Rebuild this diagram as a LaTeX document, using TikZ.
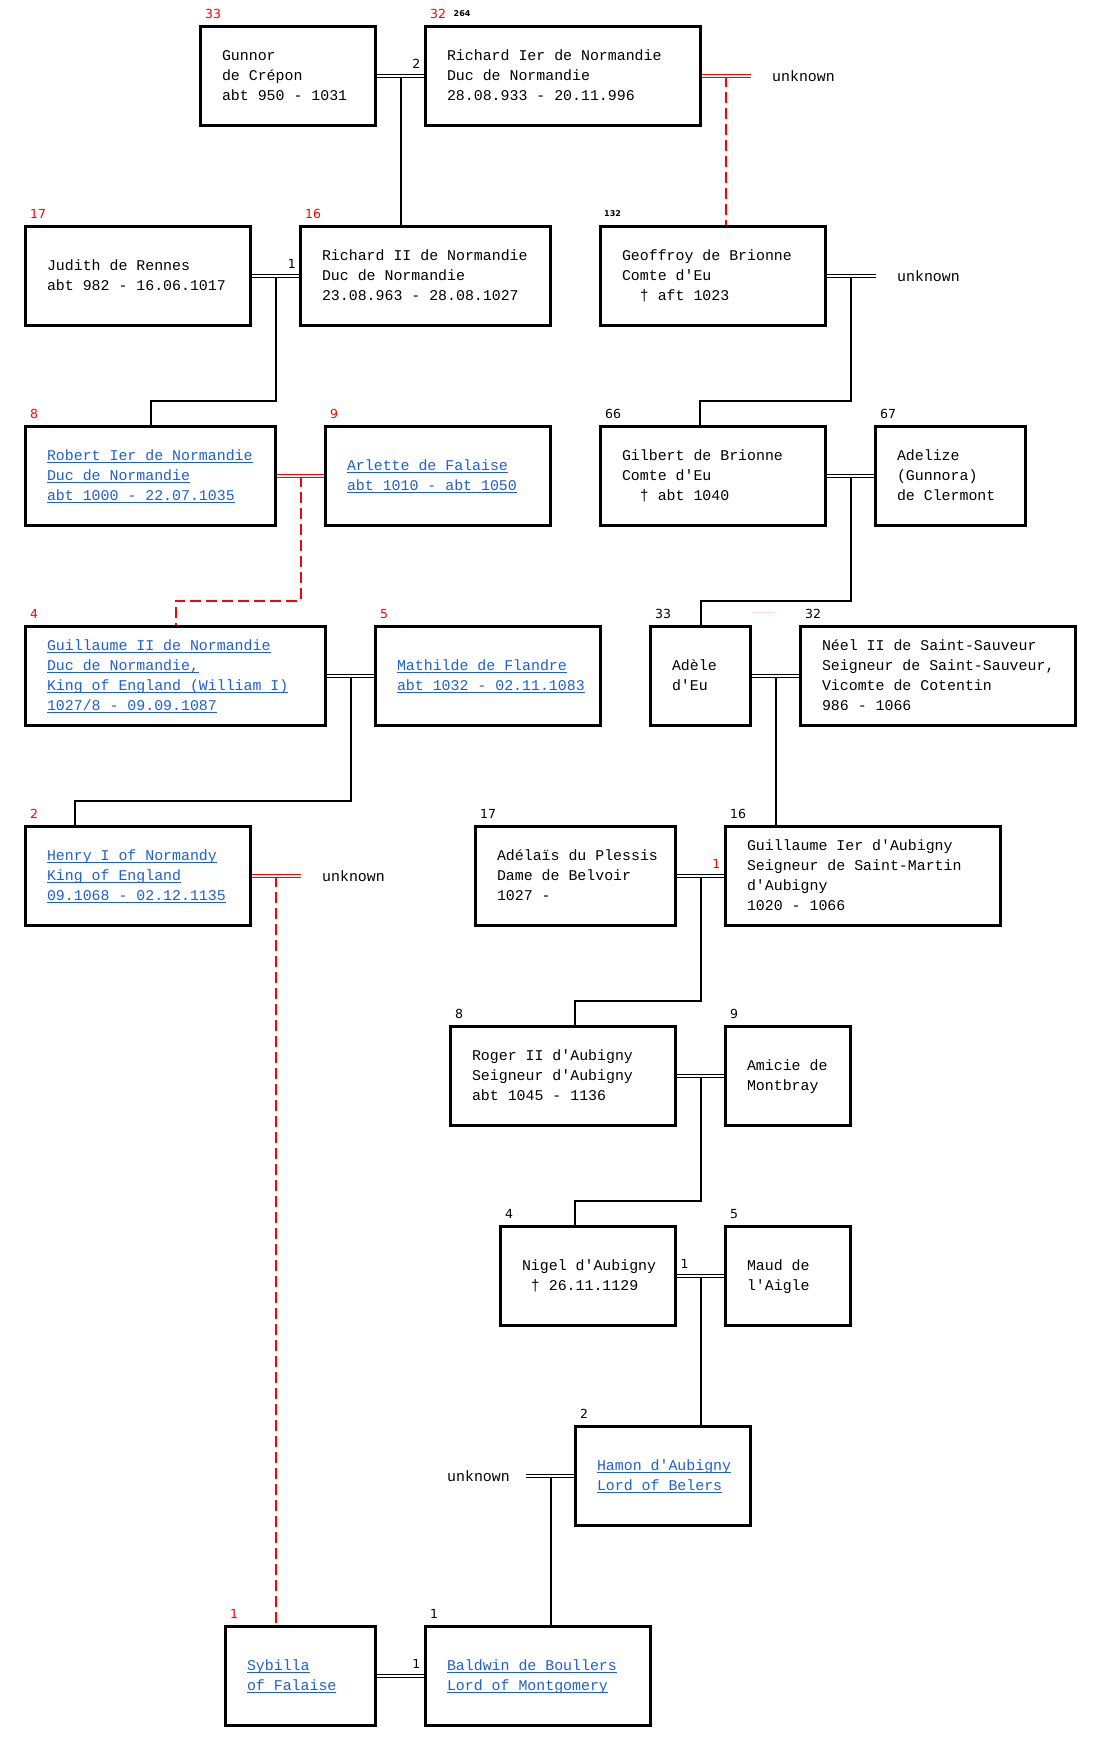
\documentclass[tikz,border=0pt]{standalone}
\usepackage{fontspec}
\setmonofont{Liberation Mono}
\newfontfamily\numfont{DejaVu Sans}
\usepackage{xcolor}
\usepackage{tikz}
\usetikzlibrary{positioning,calc,backgrounds}
\definecolor{ink}{HTML}{000000}
\definecolor{wedred}{HTML}{FF0000}
\definecolor{linkblue}{HTML}{1F5FCC}
\definecolor{ghostred}{HTML}{FFD9D9}
\newcommand\cardfont{\ttfamily\fontsize{14.9}{20}\selectfont
  \spaceskip=\fontcharwd\font`0\relax\xspaceskip=\spaceskip}
\newlength\lnkwd
\newcommand\lnk[1]{\settowidth\lnkwd{#1}\rlap{\rule[-3pt]{\lnkwd}{1pt}}#1}
\newcommand\card[1]{\cardfont\begin{tabular}{@{}l@{}}#1\end{tabular}}
\newcommand\pad[1]{\hphantom{#1}}

\begin{document}
\begin{tikzpicture}[x=1pt,y=-1pt,
  node distance=50pt,
  pbox/.style={draw=ink,line width=2.7pt,outer sep=0pt,minimum width=#1,
               text width=#1-43pt,inner xsep=21.5pt,inner ysep=0pt,
               minimum height=98.5pt,font=\cardfont,text=ink},
  lbox/.style={pbox=#1,text=linkblue},
  idx/.style={font=\numfont\fontsize{12.5}{14}\selectfont,inner sep=0pt,
              anchor=base west,text=ink},
  idxr/.style={idx,text=wedred},
  sub/.style={font=\numfont\bfseries\fontsize{8}{9}\selectfont,inner sep=0pt,
              anchor=base west,text=ink},
  unk/.style={font=\cardfont,inner sep=0pt,text=ink},
  wed/.style={draw=ink,double,line width=1.1pt,double distance=1.2pt},
  wedr/.style={wed,draw=wedred},
  desc/.style={draw=ink,line width=2pt},
  descr/.style={draw=wedred,line width=2pt,dash pattern=on 11pt off 5pt}]
  \useasboundingbox (0,0) rectangle (1101,1751);

  \node[pbox=175pt,anchor=west] (gunnor) at (200.5,76)
       {\card{Gunnor\\de Crépon\\abt 950 - 1031}};
  \node[pbox=275pt,right=of gunnor] (richard1)
       {\card{Richard Ier de Normandie\\Duc de Normandie\\28.08.933 - 20.11.996}};

  \node[pbox=225pt,anchor=west] (judith) at (25.5,276)
       {\card{Judith de Rennes\\abt 982 - 16.06.1017}};
  \node[pbox=250pt,right=of judith] (richard2)
       {\card{Richard II de Normandie\\Duc de Normandie\\23.08.963 - 28.08.1027}};
  \node[pbox=225pt,anchor=west] (geoffroy) at (600.5,276)
       {\card{Geoffroy de Brionne\\Comte d'Eu\\\pad{00}† aft 1023}};

  \node[lbox=250pt,anchor=west] (robert) at (25.5,476)
       {\card{\lnk{Robert Ier de Normandie}\\\lnk{Duc de Normandie}\\\lnk{abt 1000 - 22.07.1035}}};
  \node[lbox=225pt,right=of robert] (arlette)
       {\card{\lnk{Arlette de Falaise}\\\lnk{abt 1010 - abt 1050}}};
  \node[pbox=225pt,anchor=west] (gilbert) at (600.5,476)
       {\card{Gilbert de Brionne\\Comte d'Eu\\\pad{00}† abt 1040}};
  \node[pbox=150pt,right=of gilbert] (adelize)
       {\card{Adelize\\(Gunnora)\\de Clermont}};

  \node[lbox=300pt,anchor=west] (guillaume2) at (25.5,676)
       {\card{\lnk{Guillaume II de Normandie}\\\lnk{Duc de Normandie,}\\\lnk{King of England (William I)}\\\lnk{1027/8 - 09.09.1087}}};
  \node[lbox=225pt,right=of guillaume2] (mathilde)
       {\card{\lnk{Mathilde de Flandre}\\\lnk{abt 1032 - 02.11.1083}}};
  \node[pbox=100pt,anchor=west] (adele) at (650.5,676)
       {\card{Adèle\\d'Eu}};
  \node[pbox=275pt,right=of adele] (neel)
       {\card{Néel II de Saint-Sauveur\\Seigneur de Saint-Sauveur,\\Vicomte de Cotentin\\986 - 1066}};

  \node[lbox=225pt,anchor=west] (henry) at (25.5,876)
       {\card{\lnk{Henry I of Normandy}\\\lnk{King of England}\\\lnk{09.1068 - 02.12.1135}}};
  \node[pbox=200pt,anchor=west] (adelais) at (475.5,876)
       {\card{Adélaïs du Plessis\\Dame de Belvoir\\1027 -}};
  \node[pbox=275pt,right=of adelais] (guillaume1)
       {\card{Guillaume Ier d'Aubigny\\Seigneur de Saint-Martin\\d'Aubigny\\1020 - 1066}};

  \node[pbox=225pt,anchor=west] (roger) at (450.5,1076)
       {\card{Roger II d'Aubigny\\Seigneur d'Aubigny\\abt 1045 - 1136}};
  \node[pbox=125pt,right=of roger] (amicie)
       {\card{Amicie de\\Montbray}};

  \node[pbox=175pt,anchor=west] (nigel) at (500.5,1276)
       {\card{Nigel d'Aubigny\\\pad{0}† 26.11.1129}};
  \node[pbox=125pt,right=of nigel] (maud)
       {\card{Maud de\\l'Aigle}};

  \node[lbox=175pt,anchor=west] (hamon) at (575.5,1476)
       {\card{\lnk{Hamon d'Aubigny}\\\lnk{Lord of Belers}}};

  \node[lbox=150pt,anchor=west] (sybilla) at (225.5,1676)
       {\card{\lnk{Sybilla}\\\lnk{of Falaise}}};
  \node[lbox=225pt,right=of sybilla] (baldwin)
       {\card{\lnk{Baldwin de Boullers}\\\lnk{Lord of Montgomery}}};

  \node[idxr] (gunnor-no) at ([xshift=4.5pt,yshift=8pt]gunnor.north west) {33};
  \node[idxr] (richard1-no) at ([xshift=4.5pt,yshift=8pt]richard1.north west) {32};
  \node[sub] (richard1-sub) at ([xshift=28pt,yshift=10.3pt]richard1.north west) {264};
  \node[idxr] (judith-no) at ([xshift=4.5pt,yshift=8pt]judith.north west) {17};
  \node[idxr] (richard2-no) at ([xshift=4.5pt,yshift=8pt]richard2.north west) {16};
  \node[sub] (geoffroy-sub) at ([xshift=3.5pt,yshift=10.3pt]geoffroy.north west) {132};
  \node[idxr] (robert-no) at ([xshift=4.5pt,yshift=8pt]robert.north west) {8};
  \node[idxr] (arlette-no) at ([xshift=4.5pt,yshift=8pt]arlette.north west) {9};
  \node[idx] (gilbert-no) at ([xshift=4.5pt,yshift=8pt]gilbert.north west) {66};
  \node[idx] (adelize-no) at ([xshift=4.5pt,yshift=8pt]adelize.north west) {67};
  \node[idxr] (guillaume2-no) at ([xshift=4.5pt,yshift=8pt]guillaume2.north west) {4};
  \node[idxr] (mathilde-no) at ([xshift=4.5pt,yshift=8pt]mathilde.north west) {5};
  \node[idx] (adele-no) at ([xshift=4.5pt,yshift=8pt]adele.north west) {33};
  \node[idx] (neel-no) at ([xshift=4.5pt,yshift=8pt]neel.north west) {32};
  \node[idxr] (henry-no) at ([xshift=4.5pt,yshift=8pt]henry.north west) {2};
  \node[idx] (adelais-no) at ([xshift=4.5pt,yshift=8pt]adelais.north west) {17};
  \node[idx] (guillaume1-no) at ([xshift=4.5pt,yshift=8pt]guillaume1.north west) {16};
  \node[idx] (roger-no) at ([xshift=4.5pt,yshift=8pt]roger.north west) {8};
  \node[idx] (amicie-no) at ([xshift=4.5pt,yshift=8pt]amicie.north west) {9};
  \node[idx] (nigel-no) at ([xshift=4.5pt,yshift=8pt]nigel.north west) {4};
  \node[idx] (maud-no) at ([xshift=4.5pt,yshift=8pt]maud.north west) {5};
  \node[idx] (hamon-no) at ([xshift=4.5pt,yshift=8pt]hamon.north west) {2};
  \node[idxr] (sybilla-no) at ([xshift=4.5pt,yshift=8pt]sybilla.north west) {1};
  \node[idx] (baldwin-no) at ([xshift=4.5pt,yshift=8pt]baldwin.north west) {1};

  \node[idx,anchor=base east] (richard1-wn) at ([xshift=-5pt,yshift=7.5pt]richard1.west) {2};
  \node[idx,anchor=base east] (richard2-wn) at ([xshift=-4.5pt,yshift=7.5pt]richard2.west) {1};
  \node[idxr,anchor=base east] (guillaume1-wn) at ([xshift=-5pt,yshift=7.5pt]guillaume1.west) {1};
  \node[idx] (nigel-wn) at ([xshift=5pt,yshift=7.5pt]nigel.east) {1};
  \node[idx,anchor=base east] (baldwin-wn) at ([xshift=-5pt,yshift=7.5pt]baldwin.west) {1};

  \coordinate (richard1-w) at ([xshift=50pt]richard1.east);
  \coordinate (geoffroy-w) at ([xshift=50pt]geoffroy.east);
  \coordinate (henry-w) at ([xshift=50pt]henry.east);
  \coordinate (hamon-w) at ([xshift=-50pt]hamon.west);
  \node[unk,right=21.5pt of richard1-w] (richard1-u) {unknown};
  \node[unk,right=21.5pt of geoffroy-w] (geoffroy-u) {unknown};
  \node[unk,right=21.5pt of henry-w] (henry-u) {unknown};
  \node[unk,left=15.5pt of hamon-w] (hamon-u) {unknown};

  \coordinate (m-gr) at ($(gunnor.east)!0.5!(richard1.west)$);
  \coordinate (m-ru) at ($(richard1.east)!0.5!(richard1-w)$);
  \coordinate (m-jr) at ($(judith.east)!0.5!(richard2.west)$);
  \coordinate (m-gu) at ($(geoffroy.east)!0.5!(geoffroy-w)$);
  \coordinate (m-ra) at ($(robert.east)!0.5!(arlette.west)$);
  \coordinate (m-ga) at ($(gilbert.east)!0.5!(adelize.west)$);
  \coordinate (m-gm) at ($(guillaume2.east)!0.5!(mathilde.west)$);
  \coordinate (m-an) at ($(adele.east)!0.5!(neel.west)$);
  \coordinate (m-hu) at ($(henry.east)!0.5!(henry-w)$);
  \coordinate (m-ag) at ($(adelais.east)!0.5!(guillaume1.west)$);
  \coordinate (m-ram) at ($(roger.east)!0.5!(amicie.west)$);
  \coordinate (m-nm) at ($(nigel.east)!0.5!(maud.west)$);
  \coordinate (m-hb) at ($(hamon-w)!0.5!(hamon.west)$);
  \coordinate (gilbert-in) at ([xshift=99.5pt]gilbert.north west);
  \coordinate (henry-in) at ([xshift=49.5pt]henry.north west);
  \coordinate (roger-in) at ([xshift=124.5pt]roger.north west);
  \coordinate (nigel-in) at ([xshift=74.5pt]nigel.north west);

  \begin{scope}[on background layer]
    \draw[desc] (m-gr) -- (m-gr |- richard2.north);
    \draw[descr] (m-ru) -- (m-ru |- geoffroy.north);
    \draw[desc] (m-jr) |- ([yshift=26pt]robert.north) -- (robert.north);
    \draw[desc] (m-gu) |- ([yshift=26pt]gilbert-in) -- (gilbert-in);
    \draw[descr] (m-ra) |- ([yshift=26pt]guillaume2.north) -- (guillaume2.north);
    \draw[desc] (m-ga) |- ([yshift=26pt]adele.north) -- (adele.north);
    \draw[desc] (m-gm) |- ([yshift=26pt]henry-in) -- (henry-in);
    \draw[desc] (m-an) -- (m-an |- guillaume1.north);
    \draw[descr] (m-hu) -- (m-hu |- sybilla.north);
    \draw[desc] (m-ag) |- ([yshift=26pt]roger-in) -- (roger-in);
    \draw[desc] (m-ram) |- ([yshift=26pt]nigel-in) -- (nigel-in);
    \draw[desc] (m-nm) -- (m-nm |- hamon.north);
    \draw[desc] (m-hb) -- (m-hb |- baldwin.north);
    \draw[ghostred,line width=1pt] ([xshift=1pt,yshift=14pt]adele.north east) -- ++(23.5,0);

    \draw[wed] (gunnor.east) -- (richard1.west);
    \draw[wedr] (richard1.east) -- (richard1-w);
    \draw[wed] (judith.east) -- (richard2.west);
    \draw[wed] (geoffroy.east) -- (geoffroy-w);
    \draw[wedr] (robert.east) -- (arlette.west);
    \draw[wed] (gilbert.east) -- (adelize.west);
    \draw[wed] (guillaume2.east) -- (mathilde.west);
    \draw[wed] (adele.east) -- (neel.west);
    \draw[wedr] (henry.east) -- (henry-w);
    \draw[wed] (adelais.east) -- (guillaume1.west);
    \draw[wed] (roger.east) -- (amicie.west);
    \draw[wed] (nigel.east) -- (maud.west);
    \draw[wed] (hamon-w) -- (hamon.west);
    \draw[wed] (sybilla.east) -- (baldwin.west);
  \end{scope}
\end{tikzpicture}
\end{document}
